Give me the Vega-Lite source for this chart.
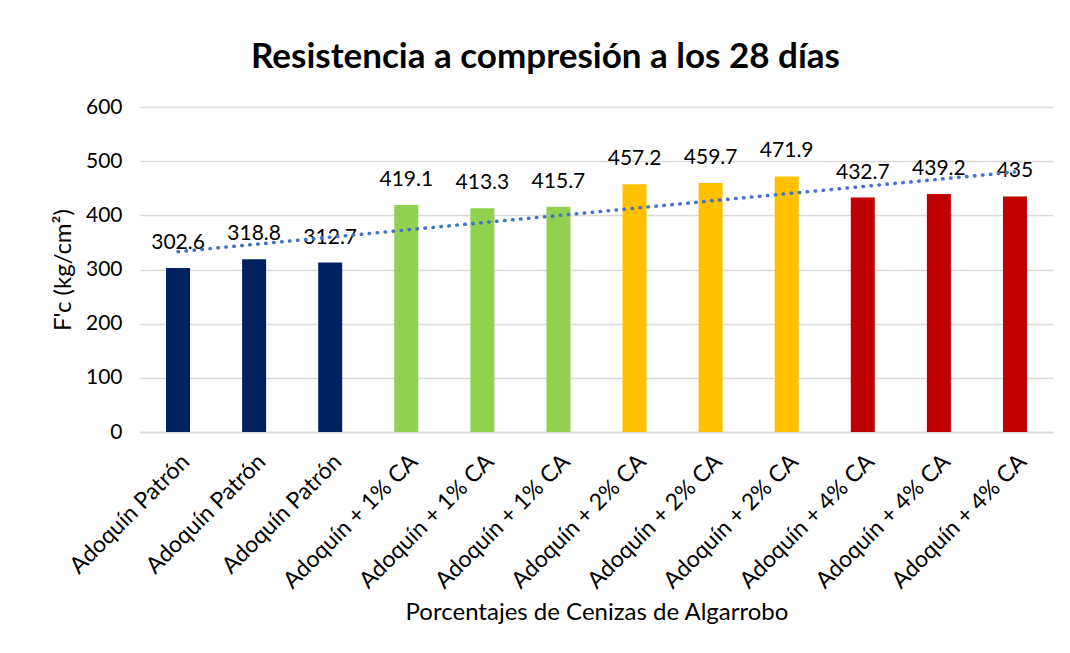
{
  "$schema": "https://vega.github.io/schema/vega-lite/v6.json",
  "width": 913,
  "height": 325,
  "autosize": {"type": "none"},
  "padding": {"left": 140, "top": 107, "right": 17, "bottom": 221},
  "background": "white",
  "config": {"view": {"stroke": null}, "font": "Lato"},
  "title": {
    "text": "Resistencia a compresión a los 28 días",
    "font": "Lato",
    "fontSize": 35,
    "fontWeight": "bold",
    "color": "#000000",
    "anchor": "middle",
    "dx": -51,
    "offset": 21
  },
  "data": {
    "values": [
      {"idx": 1, "grupo": "Adoquín Patrón", "valor": 302.6},
      {"idx": 2, "grupo": "Adoquín Patrón", "valor": 318.8},
      {"idx": 3, "grupo": "Adoquín Patrón", "valor": 312.7},
      {"idx": 4, "grupo": "Adoquín + 1% CA", "valor": 419.1},
      {"idx": 5, "grupo": "Adoquín + 1% CA", "valor": 413.3},
      {"idx": 6, "grupo": "Adoquín + 1% CA", "valor": 415.7},
      {"idx": 7, "grupo": "Adoquín + 2% CA", "valor": 457.2},
      {"idx": 8, "grupo": "Adoquín + 2% CA", "valor": 459.7},
      {"idx": 9, "grupo": "Adoquín + 2% CA", "valor": 471.9},
      {"idx": 10, "grupo": "Adoquín + 4% CA", "valor": 432.7},
      {"idx": 11, "grupo": "Adoquín + 4% CA", "valor": 439.2},
      {"idx": 12, "grupo": "Adoquín + 4% CA", "valor": 435}
    ]
  },
  "layer": [
    {
      "mark": {"type": "bar", "width": 24},
      "encoding": {
        "x": {
          "field": "idx",
          "type": "ordinal",
          "axis": {
            "labelExpr": "datum.value <= 3 ? 'Adoquín Patrón' : datum.value <= 6 ? 'Adoquín + 1% CA' : datum.value <= 9 ? 'Adoquín + 2% CA' : 'Adoquín + 4% CA'",
            "labelAngle": -45,
            "labelFontSize": 23,
            "labelColor": "#000000",
            "labelPadding": 18,
            "ticks": false,
            "domain": true,
            "domainColor": "#d9d9d9",
            "domainWidth": 1.5,
            "title": "Porcentajes de Cenizas de Algarrobo",
            "titleFontSize": 24,
            "titleFontWeight": "normal",
            "titleColor": "#000000",
            "titlePadding": 8
          }
        },
        "y": {
          "field": "valor",
          "type": "quantitative",
          "scale": {"domain": [0, 600]},
          "axis": {
            "values": [0, 100, 200, 300, 400, 500, 600],
            "labelFontSize": 21,
            "labelColor": "#000000",
            "labelPadding": 18,
            "ticks": false,
            "domain": false,
            "grid": true,
            "gridColor": "#d9d9d9",
            "gridWidth": 1.5,
            "title": "F'c (kg/cm²)",
            "titleFontSize": 24,
            "titleFontWeight": "normal",
            "titleColor": "#000000",
            "titlePadding": 10
          }
        },
        "color": {
          "field": "grupo",
          "type": "nominal",
          "scale": {
            "domain": ["Adoquín Patrón", "Adoquín + 1% CA", "Adoquín + 2% CA", "Adoquín + 4% CA"],
            "range": ["#002060", "#92D050", "#FFC000", "#C00000"]
          },
          "legend": null
        }
      }
    },
    {
      "mark": {"type": "text", "dy": -25, "fontSize": 21, "color": "#000000"},
      "encoding": {
        "x": {"field": "idx", "type": "ordinal"},
        "y": {"field": "valor", "type": "quantitative"},
        "text": {"field": "valor", "type": "quantitative"}
      }
    },
    {
      "transform": [{"regression": "valor", "on": "idx"}],
      "mark": {"type": "line", "color": "#4472C4", "strokeWidth": 3.5, "strokeDash": [0.5, 7.5], "strokeCap": "round"},
      "encoding": {
        "x": {"field": "idx", "type": "ordinal"},
        "y": {"field": "valor", "type": "quantitative"}
      }
    }
  ]
}
